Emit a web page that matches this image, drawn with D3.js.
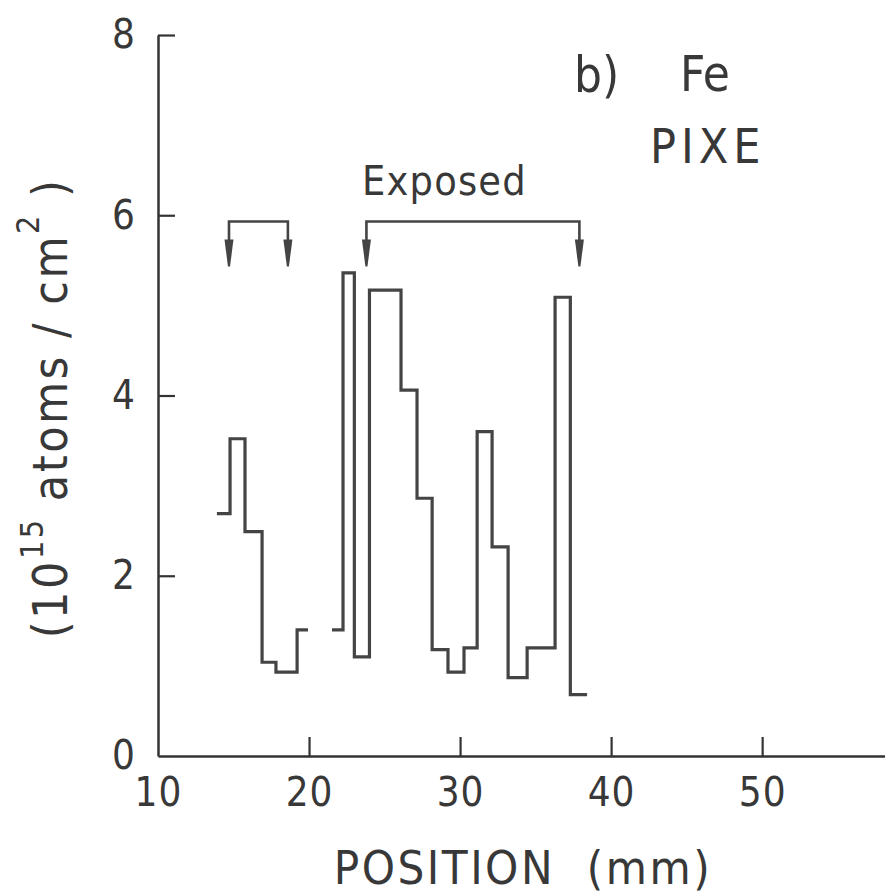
<!DOCTYPE html>
<html>
<head>
<meta charset="utf-8">
<script src="https://cdn.jsdelivr.net/npm/d3@7"></script>
<style>
  html, body { margin: 0; padding: 0; background: #fff; }
  text { font-family: "DejaVu Sans Condensed", "DejaVu Sans", sans-serif; fill: #383838; }
</style>
</head>
<body>
<svg id="chart" width="885" height="896"></svg>
<script>
// ---- data ----
const xTicks = [10, 20, 30, 40, 50];
const yTicks = [0, 2, 4, 6, 8];
// profile segment 1 (left), step edges (mm) and values (1e15 atoms/cm2)
const seg1Edges = [13.9, 14.77, 15.76, 16.89, 17.81, 19.21, 19.93];
const seg1Values = [2.69, 3.52, 2.49, 1.04, 0.93, 1.40];
// profile segment 2 (right)
const seg2Edges = [21.52, 22.25, 23.0, 24.0, 26.09, 27.15, 28.15, 29.2, 30.26, 31.13, 32.12, 33.18, 34.44, 36.29, 37.3, 38.41];
const seg2Values = [1.40, 5.36, 1.10, 5.17, 4.06, 2.86, 1.18, 0.93, 1.20, 3.60, 2.32, 0.87, 1.20, 5.09, 0.68];
// exposed brackets
const bracketStarts = [14.7, 23.8];
const bracketEnds = [18.6, 37.9];
const bracketLevel = 5.93;
const arrowTipLevel = 5.43;

// ---- scales ----
const svg = d3.select("#chart");
const x = d3.scaleLinear().domain([10, 58.2]).range([158, 886]);
const y = d3.scaleLinear().domain([0, 8]).range([756, 35]);
const ink = "#333";

// axes
const xAxis = d3.axisBottom(x).tickValues(xTicks).tickSizeInner(-19).tickSizeOuter(0).tickPadding(22);
const gx = svg.append("g").attr("transform", `translate(0,${y(0)})`).call(xAxis);
gx.select(".domain").attr("stroke", ink).attr("stroke-width", 2.5);
gx.selectAll(".tick line").attr("stroke", ink).attr("stroke-width", 2.2);
gx.selectAll(".tick text").attr("font-size", 40).attr("fill", ink).attr("dy", "0.71em").attr("letter-spacing", 1);

const yAxis = d3.axisLeft(y).tickValues(yTicks).tickSizeInner(-17).tickSizeOuter(0).tickPadding(23);
const gy = svg.append("g").attr("transform", `translate(${x(10)},0)`).call(yAxis);
gy.select(".domain").attr("stroke", ink).attr("stroke-width", 2.5);
gy.selectAll(".tick line").attr("stroke", ink).attr("stroke-width", 2.2);
gy.selectAll(".tick text").attr("font-size", 40).attr("fill", ink);
gx.selectAll(".tick").filter(d => d === 10).select("line").remove();
gy.selectAll(".tick").filter(d => d === 0).select("line").remove();

// step profiles
const line = d3.line().x(d => x(d[0])).y(d => y(d[1])).curve(d3.curveStepAfter);
function pts(edges, vals) {
  const p = vals.map((v, i) => [edges[i], v]);
  p.push([edges[edges.length - 1], vals[vals.length - 1]]);
  return p;
}
[[seg1Edges, seg1Values], [seg2Edges, seg2Values]].forEach(([e, v]) => {
  svg.append("path").datum(pts(e, v)).attr("d", line)
    .attr("fill", "none").attr("stroke", "#444").attr("stroke-width", 3.2)
    .attr("stroke-linejoin", "miter");
});

// brackets with arrows
bracketStarts.forEach((s, i) => {
  const e = bracketEnds[i];
  const by = y(bracketLevel), ty = y(arrowTipLevel);
  svg.append("path")
    .attr("d", `M${x(s)},${ty - 24}V${by}H${x(e)}V${ty - 24}`)
    .attr("fill", "none").attr("stroke", "#444").attr("stroke-width", 2.6);
  [s, e].forEach(v => {
    const cx = x(v);
    svg.append("path")
      .attr("d", `M${cx - 4.5},${ty - 27}L${cx + 4.5},${ty - 27}L${cx + 1},${ty}L${cx - 1},${ty}Z`)
      .attr("fill", "#444");
  });
});

// annotations
svg.append("text").attr("x", 574).attr("y", 92).attr("font-size", 49).text("b)");
svg.append("text").attr("x", 680).attr("y", 91).attr("font-size", 49).text("Fe");
svg.append("text").attr("x", 650).attr("y", 163).attr("font-size", 48).attr("letter-spacing", 5).text("PIXE");
svg.append("text").attr("x", 362).attr("y", 195).attr("font-size", 41).attr("letter-spacing", 1.2).text("Exposed");

// axis titles
svg.append("text").attr("x", 523).attr("y", 884).attr("font-size", 47)
  .attr("text-anchor", "middle").attr("letter-spacing", 2.5).attr("xml:space", "preserve").text("POSITION  (mm)");

const yl = svg.append("text").attr("transform", "translate(67,408) rotate(-90)")
  .attr("text-anchor", "middle").attr("font-size", 48).attr("letter-spacing", 2.5).attr("xml:space", "preserve");
yl.append("tspan").text("(10");
yl.append("tspan").attr("font-size", 32).attr("dy", -24).text("15");
yl.append("tspan").attr("dy", 24).text(" atoms / cm");
yl.append("tspan").attr("font-size", 32).attr("dy", -28).text("2");
yl.append("tspan").attr("dy", 28).text(" )");
</script>
</body>
</html>
